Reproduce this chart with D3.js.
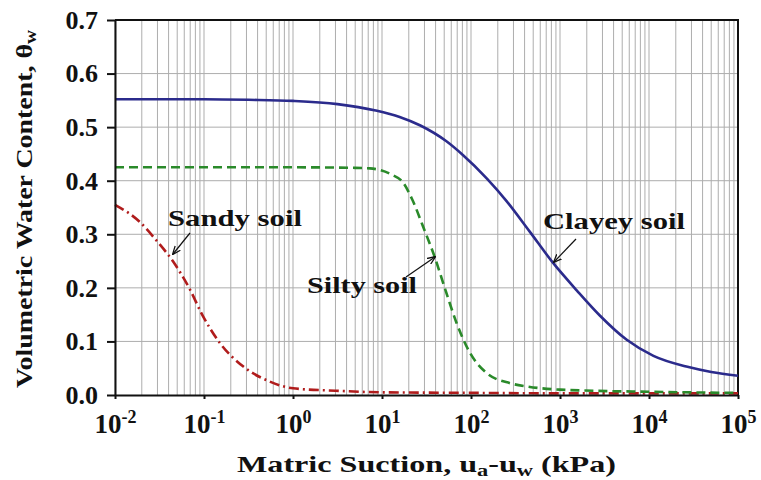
<!DOCTYPE html>
<head>
  <meta charset="utf-8">
  <style>
    body { margin: 0; background: #fff; }
    text { font-family: "Liberation Serif", "Times New Roman", serif; font-weight: bold; fill: #111; }
    .grid line { stroke: #adadad; stroke-width: 1; }
    .axis path, .axis line { stroke: #111; stroke-width: 2; }
    .line { fill: none; stroke-width: 2.6; }
    .clayey { stroke: #2b2b8c; }
    .silty { stroke: #2a8a2a; stroke-dasharray: 9, 5; }
    .sandy { stroke: #b01c1c; stroke-dasharray: 10, 4, 2, 4; }
    .arrow { stroke: #111; stroke-width: 1.2; fill: none; }
  </style>
  <script src="https://d3js.org/d3.v7.min.js"></script>
</head>
<body>
<script>
  // suction (kPa) and volumetric water content
  var clayeySuction = [0.01, 0.1, 0.316, 1, 3.16, 8.5, 15.8, 27, 52.5, 81, 151, 251, 457, 832, 1549, 2818, 5623, 11220, 26300, 50100, 100000];
  var clayeyTheta   = [0.552, 0.552, 0.551, 0.549, 0.543, 0.531, 0.519, 0.503, 0.474, 0.448, 0.404, 0.362, 0.305, 0.247, 0.195, 0.148, 0.103, 0.073, 0.053, 0.043, 0.036];

  var siltySuction = [0.01, 1, 5, 7.3, 13, 17, 22, 29, 39, 53, 69, 98, 150, 275, 425, 1000, 10000, 100000];
  var siltyTheta   = [0.425, 0.425, 0.424, 0.423, 0.411, 0.398, 0.364, 0.314, 0.258, 0.190, 0.134, 0.078, 0.041, 0.022, 0.016, 0.010, 0.006, 0.004];

  var sandySuction = [0.01, 0.019, 0.029, 0.045, 0.07, 0.094, 0.151, 0.277, 0.55, 1, 3, 10, 100, 1000, 100000];
  var sandyTheta   = [0.355, 0.323, 0.289, 0.249, 0.196, 0.152, 0.097, 0.053, 0.025, 0.0125, 0.008, 0.005, 0.004, 0.003, 0.003];

  var xTickExps = [-2, -1, 0, 1, 2, 3, 4, 5];
  var yTicks = [0.0, 0.1, 0.2, 0.3, 0.4, 0.5, 0.6, 0.7];

  var margin = {top: 20, right: 23, bottom: 85, left: 115},
      width = 761 - margin.left - margin.right,
      height = 480 - margin.top - margin.bottom;

  var svg = d3.select("body").append("svg")
      .attr("width", 761)
      .attr("height", 480);

  var g = svg.append("g")
      .attr("transform", "translate(" + margin.left + "," + margin.top + ")");

  var x = d3.scaleLog().domain([0.01, 100000]).range([0, width]);
  var y = d3.scaleLinear().domain([0, 0.7]).range([height, 0]);

  // grid
  var minor = [];
  xTickExps.forEach(function(e) {
    for (var k = 1; k <= 9; k++) {
      var v = k * Math.pow(10, e);
      if (v > 0.0099 && v < 100001) minor.push(v);
    }
  });
  var grid = g.append("g").attr("class", "grid");
  grid.selectAll(".vg").data(minor).enter().append("line")
      .attr("x1", function(d) { return x(d); })
      .attr("x2", function(d) { return x(d); })
      .attr("y1", 0).attr("y2", height);
  grid.selectAll(".hg").data(yTicks.slice(1, 7)).enter().append("line")
      .attr("x1", 0).attr("x2", width)
      .attr("y1", function(d) { return y(d); })
      .attr("y2", function(d) { return y(d); });

  // frame (top and right)
  g.append("path")
      .attr("d", "M0,0H" + width + "V" + height)
      .attr("fill", "none").attr("stroke", "#111").attr("stroke-width", 2);

  // curves
  var line = d3.line()
      .x(function(d) { return x(d[0]); })
      .y(function(d) { return y(d[1]); })
      .curve(d3.curveMonotoneX);

  function pairs(xs, ys) { return xs.map(function(v, i) { return [v, ys[i]]; }); }

  g.append("path").attr("class", "line sandy").attr("d", line(pairs(sandySuction, sandyTheta)));
  g.append("path").attr("class", "line silty").attr("d", line(pairs(siltySuction, siltyTheta)));
  g.append("path").attr("class", "line clayey").attr("d", line(pairs(clayeySuction, clayeyTheta)));

  // axis-x
  var xAxis = g.append("g")
      .attr("class", "axis axis--x")
      .attr("transform", "translate(0," + height + ")")
      .call(d3.axisBottom(x)
        .tickValues(xTickExps.map(function(e) { return Math.pow(10, e); }))
        .tickSize(4).tickSizeOuter(0).tickPadding(10)
        .tickFormat(""));
  xAxis.selectAll(".tick text").each(function(d, i) {
    var t = d3.select(this)
        .attr("font-size", 27).attr("dy", "0.9em").attr("fill", "#111");
    t.append("tspan").text("10");
    t.append("tspan").attr("font-size", 18).attr("dy", "-0.6em").text(xTickExps[i]);
  });

  // axis-y
  g.append("g")
      .attr("class", "axis axis--y")
      .call(d3.axisLeft(y).tickValues(yTicks).tickSize(8).tickSizeOuter(0).tickPadding(9)
        .tickFormat(d3.format(".1f")))
    .selectAll("text")
      .attr("font-size", 26).attr("fill", "#111");

  // axis titles
  var xt = svg.append("text")
      .attr("x", 237).attr("y", 472)
      .attr("font-size", 23)
      .attr("textLength", 379).attr("lengthAdjust", "spacingAndGlyphs");
  xt.append("tspan").text("Matric Suction, u");
  xt.append("tspan").attr("font-size", 16).attr("dy", 4).text("a");
  xt.append("tspan").attr("dy", -4).text("-u");
  xt.append("tspan").attr("font-size", 16).attr("dy", 4).text("w");
  xt.append("tspan").attr("dy", -4).text(" (kPa)");

  var yt = svg.append("text")
      .attr("transform", "translate(32,388) rotate(-90)")
      .attr("font-size", 23)
      .attr("textLength", 358).attr("lengthAdjust", "spacingAndGlyphs");
  yt.append("tspan").text("Volumetric Water Content, θ");
  yt.append("tspan").attr("font-size", 16).attr("dy", 4).text("w");

  // annotations
  var notes = [
    {text: "Sandy soil", tx: 168, ty: 226, len: 134, ax1: 190, ay1: 233, ax2: 173, ay2: 254},
    {text: "Silty soil", tx: 307, ty: 293, len: 110, ax1: 406, ay1: 277, ax2: 435, ay2: 257},
    {text: "Clayey soil", tx: 543, ty: 229, len: 142, ax1: 576, ay1: 239, ax2: 554, ay2: 262}
  ];
  svg.append("defs").append("marker")
      .attr("id", "ah").attr("viewBox", "0 0 10 10")
      .attr("refX", 9).attr("refY", 5)
      .attr("markerWidth", 7).attr("markerHeight", 7)
      .attr("orient", "auto")
    .append("path").attr("d", "M0,1L10,5L0,9").attr("fill", "none").attr("stroke", "#111").attr("stroke-width", 1.5);

  notes.forEach(function(n) {
    svg.append("text")
        .attr("x", n.tx).attr("y", n.ty)
        .attr("font-size", 23)
        .attr("textLength", n.len).attr("lengthAdjust", "spacingAndGlyphs")
        .text(n.text);
    svg.append("line").attr("class", "arrow")
        .attr("x1", n.ax1).attr("y1", n.ay1).attr("x2", n.ax2).attr("y2", n.ay2)
        .attr("marker-end", "url(#ah)");
  });
</script>
</body>
</html>
